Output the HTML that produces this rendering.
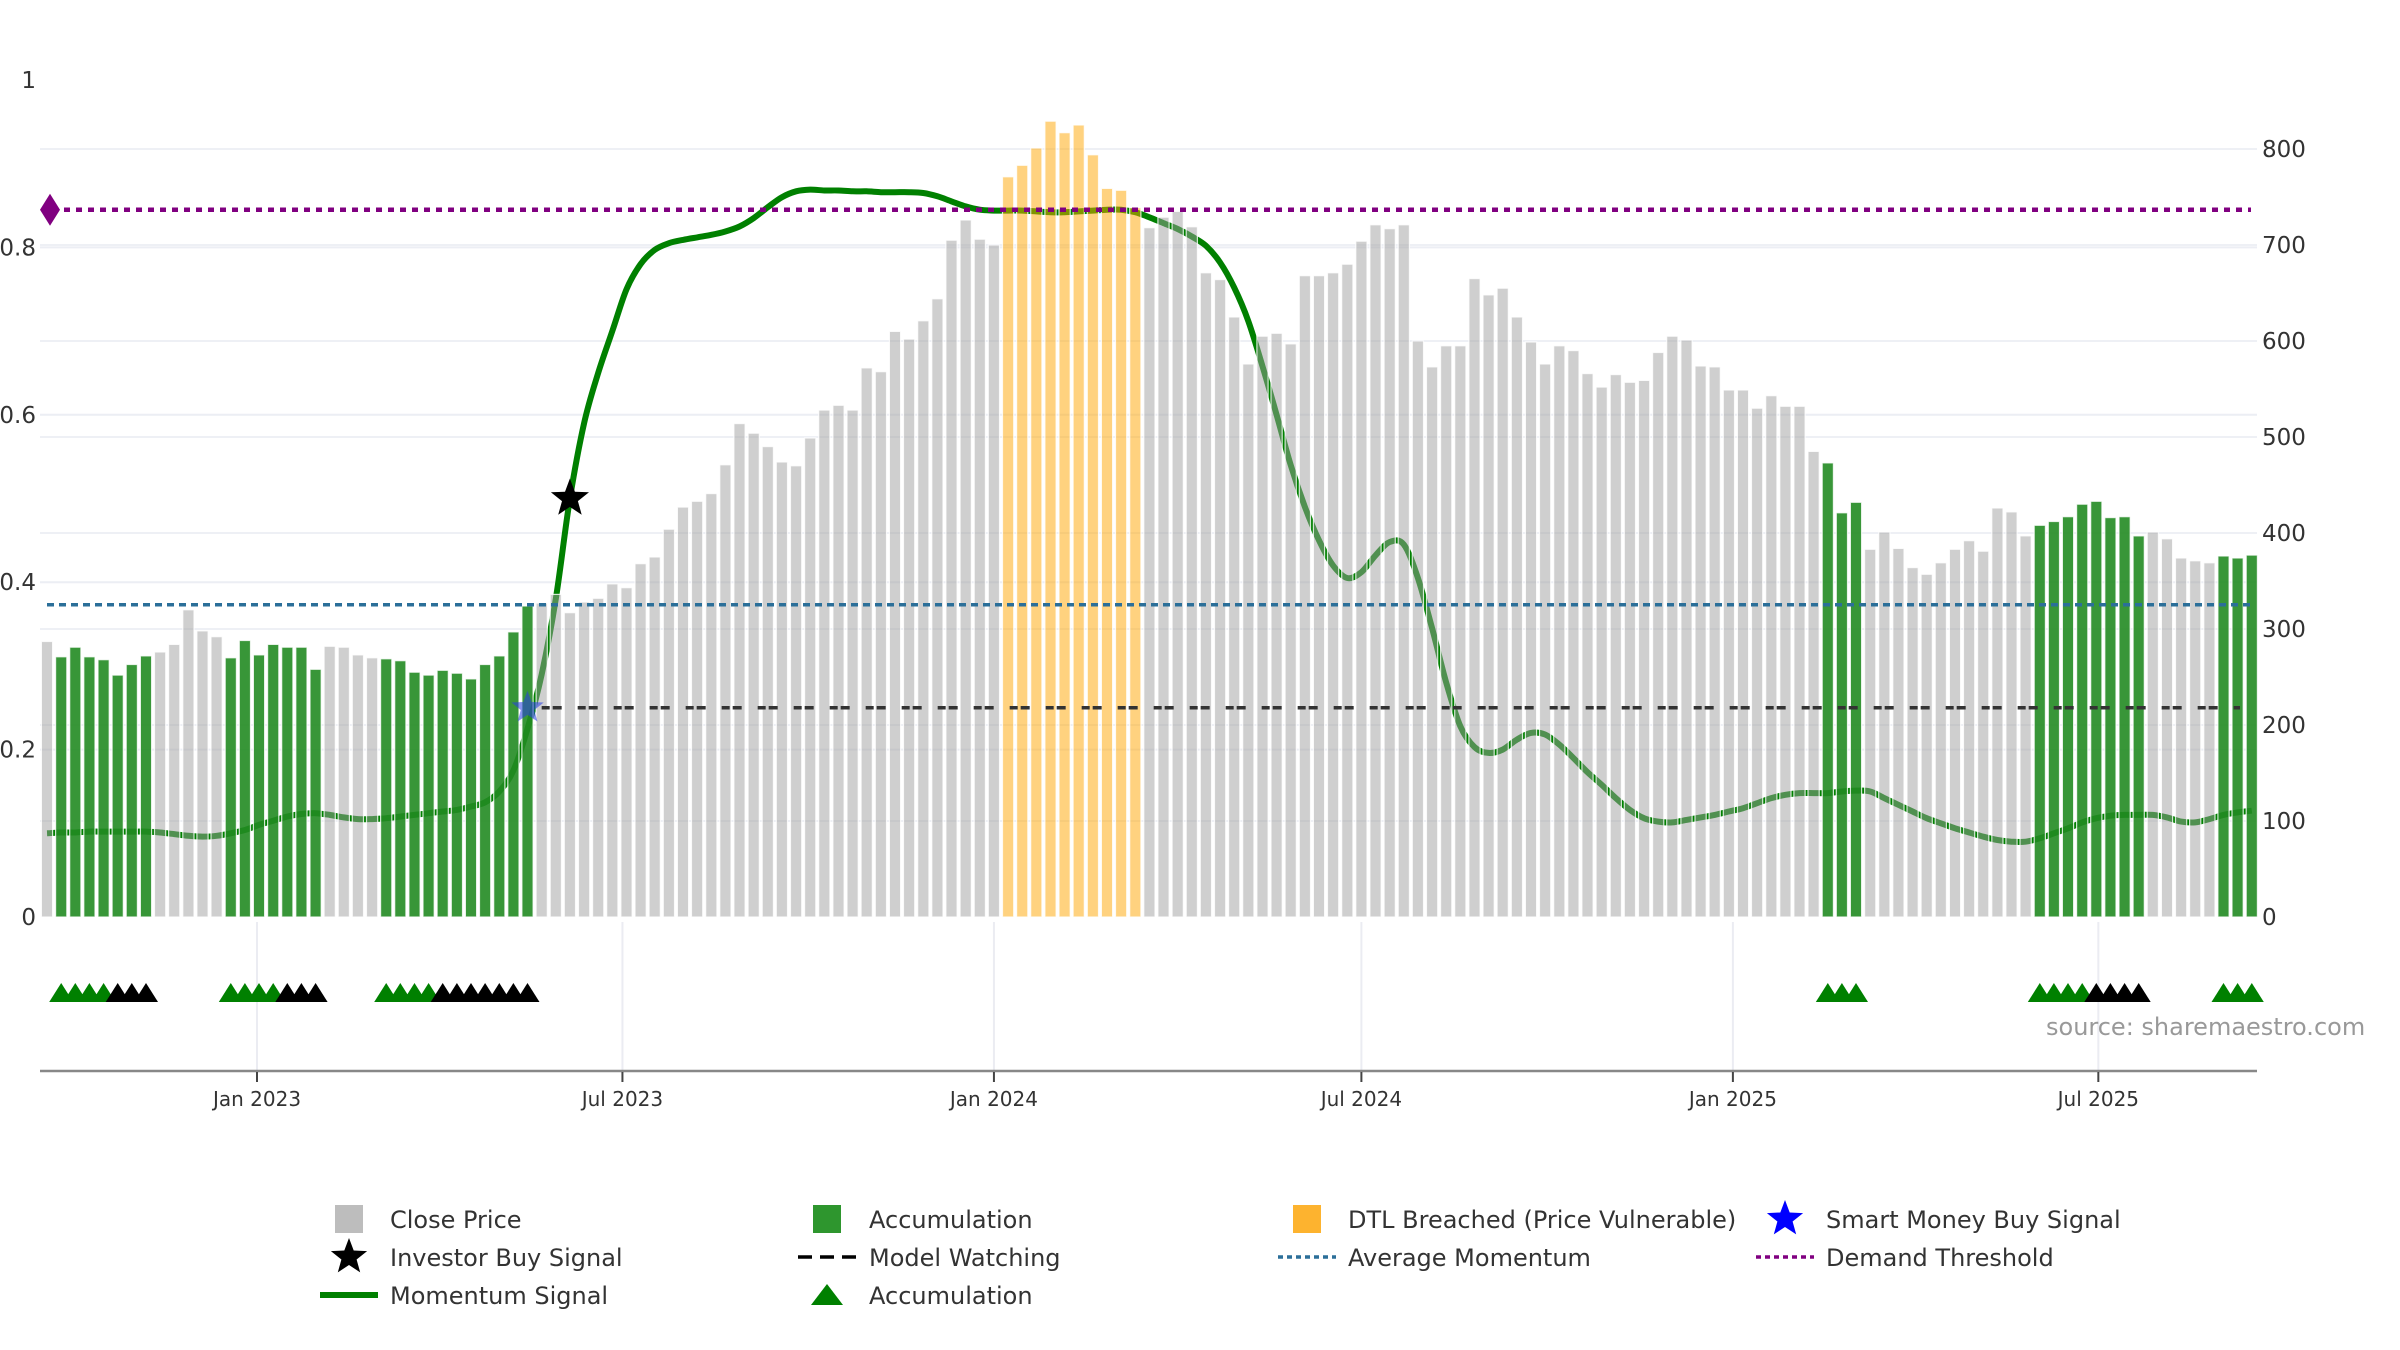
<!DOCTYPE html>
<html><head><meta charset="utf-8"><title>Momentum chart</title>
<style>
html,body{margin:0;padding:0;background:#fff;}
svg{display:block;font-family:"DejaVu Sans","Liberation Sans",sans-serif;}
</style></head>
<body>
<svg id="chart" width="2400" height="1350" viewBox="0 0 2400 1350" xmlns="http://www.w3.org/2000/svg">
<g id="grid"></g>
<g id="lineLayer"></g>
<g id="bars"></g>
<g id="overlay"></g>
<g id="lower"></g>
<g id="axes"></g>
<g id="legend"></g>
<text x="2046" y="1035" font-size="24" fill="#999">source: sharemaestro.com</text>
</svg>
<script>
const startDate = "2022-09-19";
const prices = [287,271,281,271,268,252,263,272,276,284,320,298,292,270,288,273,284,281,281,258,
282,281,273,270,269,267,255,252,257,254,248,263,272,297,324,327,336,317,328,332,
347,343,368,375,404,427,433,441,471,514,504,490,474,470,499,528,533,528,572,568,
610,602,621,644,705,726,706,700,771,783,801,829,817,825,794,759,757,739,
718,729,735,719,
671,664,625,576,605,608,597,668,668,671,680,704,721,717,721,600,573,595,595,665,
648,655,625,599,576,595,590,566,552,565,557,559,588,605,601,574,573,549,549,530,
543,532,532,485,473,421,432,383,401,384,364,357,369,383,392,381,426,422,397,408,
412,417,430,433,416,417,397,401,394,374,371,369,376,374,377];
const momentum = [.100,.101,.101,.102,.102,.102,.102,.102,.101,.099,
.097,.096,.097,.100,.104,.110,.115,.120,.123,.124,
.122,.119,.117,.117,.118,.120,.122,.124,.126,.128,
.132,.137,.150,.175,.225,.29,.38,.50,.59,.65,
.70,.75,.78,.797,.805,.809,.812,.815,.819,.825,
.835,.848,.860,.867,.869,.868,.868,.867,.867,.866,
.866,.866,.865,.861,.855,.849,.845,.844,.844,.844,
.843,.842,.842,.843,.844,.845,.845,.842,.836,.829,
.822,.813,.802,.782,.752,.712,.658,.600,.540,.490,
.450,.420,.405,.412,.432,.448,.445,.405,.345,.280,
.228,.203,.196,.200,.212,.220,.218,.206,.190,.173,
.158,.142,.128,.118,.114,.113,.116,.119,.122,.126,
.130,.136,.142,.146,.148,.148,.148,.150,.151,.150,
.142,.134,.126,.118,.112,.106,.101,.096,.092,.090,
.090,.094,.100,.106,.113,.118,.121,.122,.122,.122,
.119,.114,.113,.117,.122,.125,.127];
const barState = ("n"+"g".repeat(7)+"n".repeat(5)+"g".repeat(7)+"n".repeat(4)+"g".repeat(11)+"n".repeat(33)+"o".repeat(10)+"n".repeat(48)+"g".repeat(3)+"n".repeat(12)+"g".repeat(8)+"n".repeat(5)+"g".repeat(3)).split("");
const triState = ("."+"GGGGKKK"+"....."+"GGGGKKK"+"...."+"GGGGKKKKKKK"+".".repeat(33)+".".repeat(10)+".".repeat(48)+"GGG"+".".repeat(12)+"GGGGKKKK"+"....."+"GGG").split("");
const leftTicks = [0,0.2,0.4,0.6,0.8,1];
const leftTickLabels = ["0","0.2","0.4","0.6","0.8","1"];
const rightTicks = [0,100,200,300,400,500,600,700,800];
const dateTicks = ["2023-01-01","2023-07-01","2024-01-01","2024-07-01","2025-01-01","2025-07-01"];
const dateTickLabels = ["Jan 2023","Jul 2023","Jan 2024","Jul 2024","Jan 2025","Jul 2025"];
const demandThreshold = 0.845;
const averageMomentum = 0.373;
const modelWatching = 0.25;
const modelWatchStart = 35;
const investorSignalIdx = 37;
const smartMoneyIdx = 34;

const NS = "http://www.w3.org/2000/svg";
const X0 = 40, X1 = 2257, Y0 = 917;
const day0 = Date.UTC(2023,0,1);
function xDate(s){const d=new Date(s+"T00:00:00Z");return 257+(d-day0)/86400000*2.019;}
function xBar(i){const d=new Date(startDate+"T00:00:00Z");d.setUTCDate(d.getUTCDate()+7*i);return 257+(d-day0)/86400000*2.019;}
function yL(v){return Y0-v*837;}
function yR(p){return Y0-p*0.96;}
function mk(tag,attrs,parent){const e=document.createElementNS(NS,tag);for(const k in attrs)e.setAttribute(k,attrs[k]);parent.appendChild(e);return e;}
function starPath(cx,cy,r){let d="";for(let k=0;k<10;k++){const rr=k%2?r*0.42:r;const a=-Math.PI/2+k*Math.PI/5;d+=(k?"L":"M")+(cx+rr*Math.cos(a)).toFixed(1)+","+(cy+rr*Math.sin(a)).toFixed(1);}return d+"Z";}

const grid=document.getElementById("grid");
leftTicks.forEach(v=>{if(v===0||v===1)return;const l=mk("line",{x1:X0,x2:X1,y1:yL(v),y2:yL(v),stroke:"#eceef4","stroke-width":2},grid);

});
rightTicks.forEach(p=>{if(p===0)return;const l=mk("line",{x1:X0,x2:X1,y1:yR(p),y2:yR(p),stroke:"#eef0f5","stroke-width":2},grid);

});
dateTicks.forEach(s=>{const l=mk("line",{x1:xDate(s),x2:xDate(s),y1:922,y2:1071,stroke:"#ebecf2","stroke-width":2},grid);

});

const ml=document.getElementById("lineLayer");
const pts=momentum.map((v,i)=>[xBar(i),yL(v)]);
let d="M"+pts[0][0]+","+pts[0][1];
for(let i=0;i<pts.length-1;i++){const p0=pts[Math.max(0,i-1)],p1=pts[i],p2=pts[i+1],p3=pts[Math.min(pts.length-1,i+2)];
const c1=[p1[0]+(p2[0]-p0[0])/6,p1[1]+(p2[1]-p0[1])/6],c2=[p2[0]-(p3[0]-p1[0])/6,p2[1]-(p3[1]-p1[1])/6];
d+="C"+c1[0].toFixed(1)+","+c1[1].toFixed(1)+" "+c2[0].toFixed(1)+","+c2[1].toFixed(1)+" "+p2[0].toFixed(1)+","+p2[1].toFixed(1);}
const mom=mk("path",{d:d,fill:"none",stroke:"#008000","stroke-width":6,"stroke-linejoin":"round"},ml);



const bg=document.getElementById("bars");
const fills={n:"rgba(160,160,160,0.5)",g:"rgba(34,139,34,0.9)",o:"rgba(255,165,0,0.5)"};
prices.forEach((p,i)=>{const x=xBar(i);const st=barState[i];
const r=mk("rect",{x:(x-5.6).toFixed(1),y:yR(p).toFixed(1),width:11.2,height:(Y0-yR(p)).toFixed(1),fill:fills[st],stroke:"rgba(255,255,255,0.8)","stroke-width":1.2},bg);

});

const ov=document.getElementById("overlay");
const dem=mk("line",{x1:52,x2:2251,y1:yL(demandThreshold),y2:yL(demandThreshold),stroke:"#800080","stroke-width":4.5,"stroke-dasharray":"6,6"},ov);


const dia=mk("path",{d:`M50,${yL(demandThreshold)-16}L60,${yL(demandThreshold)}L50,${yL(demandThreshold)+16}L40,${yL(demandThreshold)}Z`,fill:"#800080"},ov);


const avg=mk("line",{x1:47,x2:2251,y1:yL(averageMomentum),y2:yL(averageMomentum),stroke:"#2b6f99","stroke-width":3.5,"stroke-dasharray":"7,5"},ov);


const mw=mk("line",{x1:xBar(modelWatchStart),x2:2240,y1:yL(modelWatching),y2:yL(modelWatching),stroke:"#333","stroke-width":3.5,"stroke-dasharray":"8,3,9,16"},ov);


const sm=mk("path",{d:starPath(xBar(smartMoneyIdx),yL(modelWatching),17),fill:"rgba(40,60,230,0.55)"},ov);


const inv=mk("path",{d:starPath(xBar(investorSignalIdx),yL(momentum[investorSignalIdx]),20),fill:"#000"},ov);



const lw=document.getElementById("lower");
triState.forEach((t,i)=>{if(t===".")return;const x=xBar(i);
const tr=mk("path",{d:`M${(x-12).toFixed(1)},1002L${x.toFixed(1)},983L${(x+12).toFixed(1)},1002Z`,fill:t==="G"?"#008000":"#000"},lw);

});

const ax=document.getElementById("axes");
const xl=mk("line",{x1:X0,x2:X1,y1:1071,y2:1071,stroke:"#888","stroke-width":2.5},ax);


dateTicks.forEach((s,i)=>{const x=xDate(s);
const tk=mk("line",{x1:x,x2:x,y1:1072,y2:1082,stroke:"#444","stroke-width":2},ax);


const t=mk("text",{x:x,y:1106,"font-size":20,fill:"#333","text-anchor":"middle"},ax);t.textContent=dateTickLabels[i];

});
leftTicks.forEach((v,i)=>{const t=mk("text",{x:36,y:yL(v)+8,"font-size":23,fill:"#333","text-anchor":"end"},ax);t.textContent=leftTickLabels[i];

});
rightTicks.forEach(p=>{const t=mk("text",{x:2262,y:yR(p)+8,"font-size":23,fill:"#333"},ax);t.textContent=String(p);

});

const lg=document.getElementById("legend");
const rows=[1219,1257,1295], cols=[349,827,1307,1785], tx=[390,869,1348,1826];
const items=[
 [0,0,"Close Price","close"],[1,0,"Accumulation","accsq"],[2,0,"DTL Breached (Price Vulnerable)","dtl"],[3,0,"Smart Money Buy Signal","smstar"],
 [0,1,"Investor Buy Signal","star"],[1,1,"Model Watching","dash"],[2,1,"Average Momentum","avg"],[3,1,"Demand Threshold","dem"],
 [0,2,"Momentum Signal","line"],[1,2,"Accumulation","tri"]];
items.forEach(it=>{const cx=cols[it[0]],cy=rows[it[1]];
const g=mk("g",{},lg);


const k=it[3];
if(k==="close")mk("rect",{x:cx-14,y:cy-14,width:28,height:28,fill:"#bdbdbd"},g);
if(k==="accsq")mk("rect",{x:cx-14,y:cy-14,width:28,height:28,fill:"#2e962e"},g);
if(k==="dtl")mk("rect",{x:cx-14,y:cy-14,width:28,height:28,fill:"#fdb32f"},g);
if(k==="smstar")mk("path",{d:starPath(cx,cy,19),fill:"#0000ff"},g);
if(k==="star")mk("path",{d:starPath(cx,cy,19),fill:"#000"},g);
if(k==="line")mk("line",{x1:cx-29,x2:cx+29,y1:cy,y2:cy,stroke:"#008000","stroke-width":6},g);
if(k==="dash")mk("line",{x1:cx-29,x2:cx+29,y1:cy,y2:cy,stroke:"#000","stroke-width":3.5,"stroke-dasharray":"14,8"},g);
if(k==="avg")mk("line",{x1:cx-29,x2:cx+29,y1:cy,y2:cy,stroke:"#2b6f99","stroke-width":3.5,"stroke-dasharray":"5,4"},g);
if(k==="dem")mk("line",{x1:cx-29,x2:cx+29,y1:cy,y2:cy,stroke:"#800080","stroke-width":3.5,"stroke-dasharray":"5,4"},g);
if(k==="tri")mk("path",{d:`M${cx-16},${cy+10}L${cx},${cy-11}L${cx+16},${cy+10}Z`,fill:"#008000"},g);
const t=mk("text",{x:tx[it[0]],y:cy+9,"font-size":24,fill:"#333"},g);t.textContent=it[2];});
</script>
</body></html>
